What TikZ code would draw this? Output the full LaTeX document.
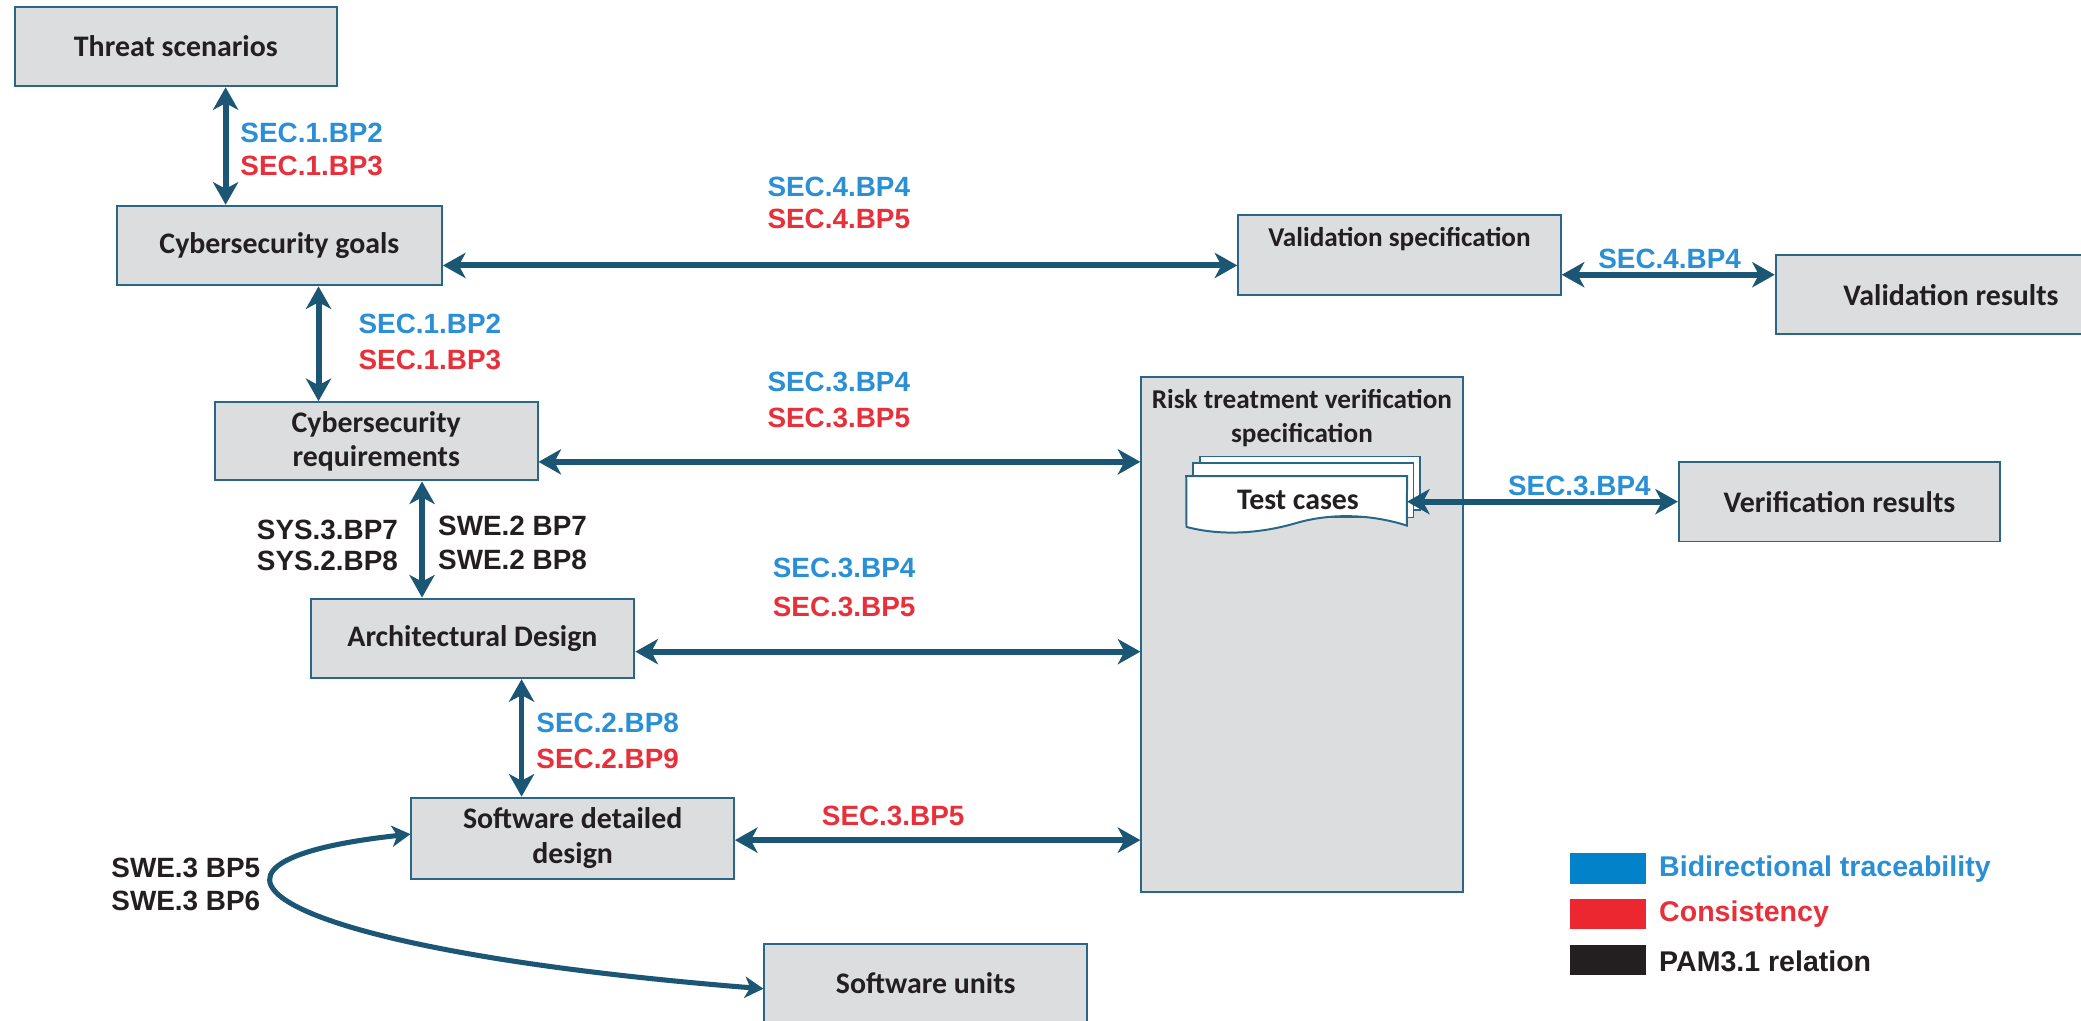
\documentclass[tikz,border=0pt]{standalone}
\usepackage{fontspec}
\setmainfont{Carlito}
\newfontfamily\labfont{Liberation Sans}
\usetikzlibrary{arrows.meta}

\definecolor{arrcol}{HTML}{1C5675}
\definecolor{edgecol}{HTML}{2A6787}
\definecolor{boxfill}{HTML}{DCDDDF}
\definecolor{txtcol}{HTML}{231F20}
\definecolor{bluelab}{HTML}{2A8FD5}
\definecolor{redlab}{HTML}{E8303A}
\definecolor{legblue}{HTML}{0282C9}
\definecolor{legred}{HTML}{EC2730}

\begin{document}
\begin{tikzpicture}[x=1pt,y=-1pt,
  box/.style={draw=edgecol, line width=1.5pt, fill=boxfill, text=txtcol,
    font=\bfseries\fontsize{22.5}{26}\selectfont, align=center, inner sep=0pt,
    minimum height=60pt, minimum width=243pt},
  title/.style={text=txtcol, font=\bfseries\fontsize{20.5}{26}\selectfont,
    align=center, inner sep=0pt},
  page/.style={draw=edgecol, line width=1.3pt, fill=white},
  link/.style={arrcol, line width=4.5pt,
    {Stealth[length=17pt,width=19pt,inset=5pt]}-{Stealth[length=17pt,width=19pt,inset=5pt]}},
  curvelink/.style={arrcol, line width=3.8pt,
    {Stealth[length=14pt,width=16pt,inset=4pt]}-{Stealth[length=14pt,width=16pt,inset=4pt]}},
  lab/.style={font=\labfont\bfseries\fontsize{21}{25}\selectfont, inner sep=0pt},
  bluetxt/.style={lab, text=bluelab},
  redtxt/.style={lab, text=redlab},
  darktxt/.style={lab, text=txtcol},
  key/.style={minimum width=57pt, minimum height=23pt, inner sep=0pt},
  keytxt/.style={font=\labfont\bfseries\fontsize{21.5}{25}\selectfont, inner sep=0pt, anchor=west}
]
\useasboundingbox (0,0) rectangle (1568,769);
\clip (0,0) rectangle (1568,769);
\fill[white] (0,0) rectangle (1568,769);

% work products
\node[box] (threat) at (132.5,35) {Threat scenarios};
\node[box, minimum width=245pt] (goals) at (210.5,185) {Cybersecurity goals};
\node[box, minimum height=59pt] (req) at (283.5,332.5) {Cybersecurity\\requirements};
\node[box, minimum width=244pt] (arch) at (356,481) {Architectural Design};
\node[box, minimum height=61pt] (sdd) at (431.5,631.5) {Software detailed\\design};
\node[box] (units) at (697.5,741) {Software units};

\node[box] (valspec) at (1054.5,192) {};
\node[title] (valspectitle) at (1054.5,180) {Validation specification};
\node[box, minimum width=264pt] (valres) at (1470,222) {Validation results};

\node[box, minimum width=242pt, minimum height=388pt] (risk) at (981,478) {};
\node[title] (risktitle) at (981,315) {Risk treatment verification\\specification};
\node[box, minimum width=242pt] (verres) at (1386,378) {Verification results};

% stacked test case documents
\draw[page] (904,344) rectangle (1070,384);
\draw[page] (899,349) rectangle (1065,390);
\node[minimum width=166pt, minimum height=38pt, inner sep=0pt] (tc) at (977,378) {};
\draw[page, line width=1.5pt] (tc.north west) -- (tc.north east) -- (1060,396)
  .. controls (1035,388) and (1005,386) .. (977,394)
  .. controls (950,402) and (920,404) .. (894,397) -- cycle;
\node[box, draw=none, fill=none] (tctext) at (978,377) {Test cases};

% lines of the relations
\coordinate (v1) at (170,0);
\coordinate (v2) at (240,0);
\coordinate (v3) at (318,0);
\coordinate (v4) at (393,0);
\coordinate (r1) at (0,200);
\coordinate (r2) at (0,207);
\coordinate (r3) at (0,348);
\coordinate (r4) at (0,378);
\coordinate (r5) at (0,491);
\coordinate (r6) at (0,633);

\draw[link] (threat.south -| v1) -- (goals.north -| v1);
\draw[link] (goals.south -| v2) -- (req.north -| v2);
\draw[link] (req.south -| v3) -- (arch.north -| v3);
\draw[link, line width=4pt] (arch.south -| v4) -- (sdd.north -| v4);
\draw[link] (goals.east |- r1) -- (valspec.west |- r1);
\draw[link] (valspec.east |- r2) -- (valres.west |- r2);
\draw[link] (req.east |- r3) -- (risk.west |- r3);
\draw[link] (tc.east |- r4) -- (verres.west |- r4);
\draw[link] (arch.east |- r5) -- (risk.west |- r5);
\draw[link] (sdd.east |- r6) -- (risk.west |- r6);
\draw[curvelink] ([yshift=3pt]sdd.west)
  .. controls (110,650) and (200,715) .. ([yshift=-4pt]units.west);

% relation labels
\node[bluetxt, anchor=west] (l1a) at (181,100) {SEC.1.BP2};
\node[redtxt, anchor=west] (l1b) at (181,125) {SEC.1.BP3};
\node[bluetxt, anchor=west] (l2a) at (270,244) {SEC.1.BP2};
\node[redtxt, anchor=west] (l2b) at (270,271) {SEC.1.BP3};
\node[bluetxt] (l3a) at (632,141) {SEC.4.BP4};
\node[redtxt] (l3b) at (632,165) {SEC.4.BP5};
\node[bluetxt] (l4) at (1258,195) {SEC.4.BP4};
\node[bluetxt] (l5a) at (632,288) {SEC.3.BP4};
\node[redtxt] (l5b) at (632,315) {SEC.3.BP5};
\node[bluetxt] (l6) at (1190,366) {SEC.3.BP4};
\node[darktxt, anchor=east] (l7a) at (300,399) {SYS.3.BP7};
\node[darktxt, anchor=east] (l7b) at (300,423) {SYS.2.BP8};
\node[darktxt, anchor=west] (l7c) at (330,396) {SWE.2 BP7};
\node[darktxt, anchor=west] (l7d) at (330,422) {SWE.2 BP8};
\node[bluetxt] (l8a) at (636,428) {SEC.3.BP4};
\node[redtxt] (l8b) at (636,457) {SEC.3.BP5};
\node[bluetxt, anchor=west] (l9a) at (404,545) {SEC.2.BP8};
\node[redtxt, anchor=west] (l9b) at (404,572) {SEC.2.BP9};
\node[redtxt] (l10) at (673,615) {SEC.3.BP5};
\node[darktxt] (l11a) at (140,654) {SWE.3 BP5};
\node[darktxt] (l11b) at (140,679) {SWE.3 BP6};

% legend
\node[key, fill=legblue] (kblue) at (1211.5,654.5) {};
\node[key, fill=legred] (kred) at (1211.5,688.5) {};
\node[key, fill=txtcol] (kblack) at (1211.5,723.5) {};
\node[keytxt, text=bluelab] (kbluetxt) at (1250,655) {Bidirectional traceability};
\node[keytxt, text=redlab] (kredtxt) at (1250,689) {Consistency};
\node[keytxt, text=txtcol] (kblacktxt) at (1250,724) {PAM3.1 relation};
\end{tikzpicture}
\end{document}
